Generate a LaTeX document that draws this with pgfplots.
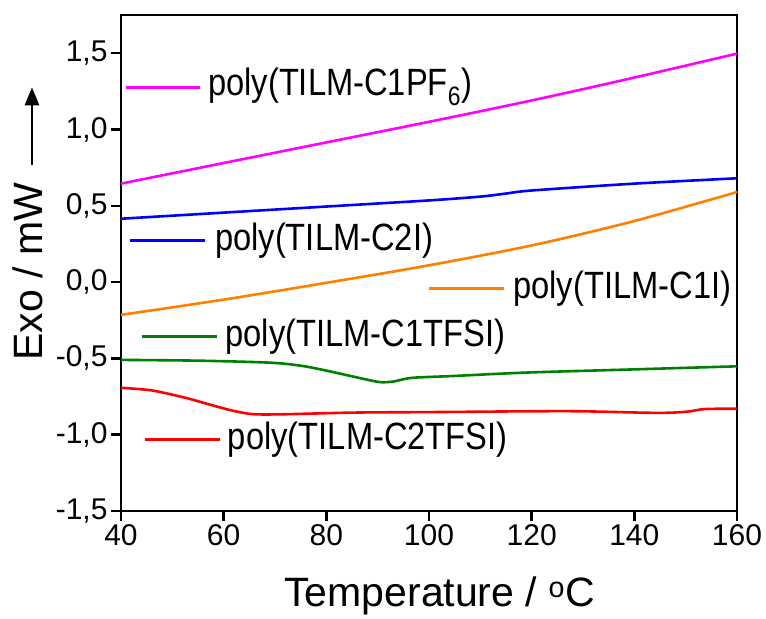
\documentclass[border=0pt]{standalone}
\usepackage{fontspec}
\setmainfont{Liberation Sans}
\newfontfamily\legfont[FakeStretch=0.86]{Liberation Sans}
\usepackage{pgfplots}
\pgfplotsset{compat=1.18}
\usetikzlibrary{arrows.meta}

\definecolor{cmag}{RGB}{255,0,255}
\definecolor{corange}{RGB}{255,128,0}
\definecolor{cgreen}{RGB}{0,128,0}

% DSC traces, values
\pgfplotstableread{
T     y
40    0.645
60    0.780
80    0.915
100   1.050
120   1.190
140   1.340
160   1.497
}\cpf

\begin{document}
\begin{tikzpicture}
\begin{axis}[
    scale only axis,
    width=616pt, height=496pt,
    xmin=40, xmax=160,
    ymin=-1.5, ymax=1.75,
    xtick={40,60,80,100,120,140,160},
    ytick={-1.5,-1.0,-0.5,0.0,0.5,1.0,1.5},
    tick pos=left,
    tick align=outside,
    major tick length=10pt,
    axis line style={line width=2.4pt},
    every tick/.style={line width=2.4pt, black},
    ticklabel style={font=\fontsize{30}{30}\selectfont,
        /pgf/number format/assume math mode=true},
    yticklabel style={/pgf/number format/.cd, fixed, fixed zerofill,
        precision=1, use comma, assume math mode=true},
    xlabel={Temperature / \textsuperscript{o}C},
    xlabel style={at={(axis description cs:0.517,-0.1935)}, anchor=base,
        font=\fontsize{41}{41}\selectfont},
    ylabel={Exo / mW},
    ylabel style={at={(axis description cs:-0.1282,0.482)}, anchor=base,
        font=\fontsize{41}{41}\selectfont},
    clip=false,
    every axis plot/.append style={line width=2.6pt, smooth, mark=none},
]

\addplot[cmag] table[x=T, y=y] {\cpf};

\addplot[blue] coordinates {
    (40,0.415) (60,0.455) (80,0.495) (100,0.535) (110,0.56)
    (115,0.58) (120,0.60) (140,0.645) (160,0.68)
};

\addplot[corange] coordinates {
    (40,-0.215) (60,-0.115) (80,-0.005) (100,0.11) (120,0.24)
    (140,0.40) (160,0.59)
};

\addplot[cgreen] coordinates {
    (40,-0.51) (55,-0.515) (69,-0.528) (75,-0.548) (79,-0.573)
    (84,-0.61) (88,-0.64) (90.6,-0.656) (93,-0.652) (95,-0.637)
    (97.3,-0.626) (105,-0.615) (119,-0.593) (140,-0.572) (160,-0.552)
};

\addplot[red] coordinates {
    (40,-0.693) (46,-0.71) (52.5,-0.758) (57,-0.80) (60.8,-0.835)
    (64,-0.858) (66.6,-0.867) (72,-0.866) (85.7,-0.855) (100,-0.852)
    (127,-0.846) (144,-0.857) (150,-0.85) (153.8,-0.832) (160,-0.83)
};

% labels beside short lines
\draw[cmag, line width=2.6pt] (axis cs:40.97,1.276) -- (axis cs:55.39,1.276);
\node[anchor=west, inner sep=0, font=\legfont\fontsize{38}{38}\selectfont]
    at (axis cs:56.95,1.276) {poly(TILM-C1PF\textsubscript{6})};

\draw[blue, line width=2.6pt] (axis cs:41.75,0.272) -- (axis cs:56.36,0.272);
\node[anchor=west, inner sep=0, font=\legfont\fontsize{38}{38}\selectfont]
    at (axis cs:58.3,0.272) {poly(TILM-C2I)};

\draw[corange, line width=2.6pt]
    (axis cs:100.0,-0.042) -- (axis cs:114.6,-0.042);
\node[anchor=west, inner sep=0, font=\legfont\fontsize{38}{38}\selectfont]
    at (axis cs:116.4,-0.042) {poly(TILM-C1I)};

\draw[cgreen, line width=2.6pt]
    (axis cs:44.1,-0.357) -- (axis cs:58.7,-0.357);
\node[anchor=west, inner sep=0, font=\legfont\fontsize{38}{38}\selectfont]
    at (axis cs:60.3,-0.357) {poly(TILM-C1TFSI)};

\draw[red, line width=2.6pt] (axis cs:44.7,-1.031) -- (axis cs:59.3,-1.031);
\node[anchor=west, inner sep=0, font=\legfont\fontsize{38}{38}\selectfont]
    at (axis cs:60.8,-1.031) {poly(TILM-C2TFSI)};

% arrow beside the y label
\draw[line width=2.6pt, -{Triangle[length=18pt,width=14pt]}]
    (axis cs:22.66,0.767) -- (axis cs:22.66,1.276);
\end{axis}
\path (current axis.south west) ++(-121pt,-104pt) rectangle ++(766pt,615pt);
\end{tikzpicture}
\end{document}
